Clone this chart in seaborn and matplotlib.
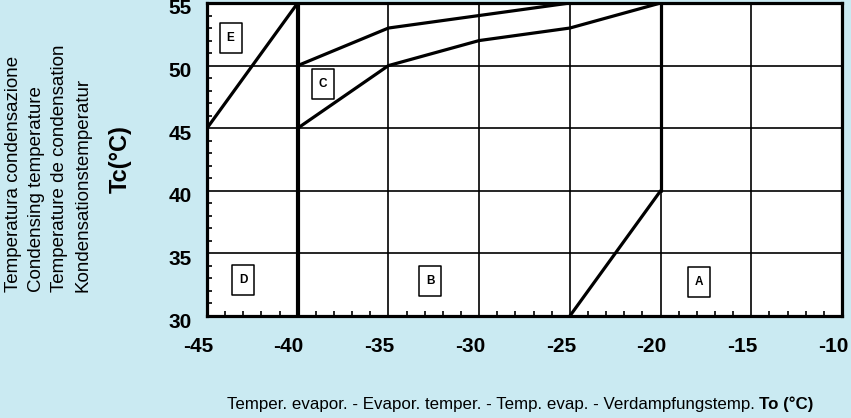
import matplotlib
matplotlib.use("Agg")
import matplotlib.pyplot as plt
import matplotlib.transforms as mtransforms
from matplotlib.path import Path
from matplotlib.ticker import MultipleLocator
import seaborn as sns

# region boundaries (To, Tc)
e_x = [-45, -40]
e_y = [45, 55]
c_upper_x = [-40, -35, -30, -25]
c_upper_y = [50, 53, 54, 55]
c_lower_x = [-40, -35, -30, -25, -20]
c_lower_y = [45, 50, 52, 53, 55]
a_x = [-25, -20]
a_y = [30, 40]
wall_40_x = [-40, -40]
wall_40_y = [30, 55]
wall_20_x = [-20, -20]
wall_20_y = [40, 55]

# zone labels
zone_names = ["E", "C", "D", "B", "A"]
zone_x = [-43.7, -38.6, -43.0, -32.7, -17.9]
zone_y = [52.2, 48.55, 32.9, 32.8, 32.7]

x_ticks = [-45, -40, -35, -30, -25, -20, -15, -10]
y_ticks = [30, 35, 40, 45, 50, 55]

ylabel_lines = ["Temperatura condensazione", "Condensing temperature",
                "Temperature de condensation", "Kondensationstemperatur"]
xlabel_text = "Temper. evapor. - Evapor. temper. - Temp. evap. - Verdampfungstemp."
xlabel_bold = "To (°C)"

BG = "#caeaf2"

sns.set_style("white")
plt.rcParams["font.family"] = ["Liberation Sans", "DejaVu Sans"]
plt.rcParams["axes.unicode_minus"] = False
plt.rcParams["text.color"] = "black"
plt.rcParams["xtick.color"] = "black"
plt.rcParams["ytick.color"] = "black"
plt.rcParams["xtick.labelcolor"] = "black"
plt.rcParams["ytick.labelcolor"] = "black"

fig = plt.figure(figsize=(8.51, 4.18), dpi=100, facecolor=BG)
ax = fig.add_axes([207 / 851, 102 / 418, 635 / 851, 313 / 418])
ax.set_facecolor("white")

ax.set_xlim(-45, -10)
ax.set_ylim(30, 55)
ax.set_xticks(x_ticks)
ax.set_yticks(y_ticks)
ax.xaxis.set_minor_locator(MultipleLocator(1))
ax.yaxis.set_minor_locator(MultipleLocator(1))
ax.grid(True, which="major", color="black", linewidth=1.2)
ax.set_axisbelow(True)

ax.tick_params(which="both", direction="in", bottom=True, left=True,
               top=False, right=False, color="black", labelcolor="black",
               labelsize=15)
ax.tick_params(which="minor", length=3.5, width=1.2)
ax.tick_params(which="major", length=0)
ax.tick_params(axis="x", pad=15)
ax.tick_params(axis="y", pad=11)
for lab in ax.get_xticklabels() + ax.get_yticklabels():
    lab.set_fontweight("bold")

for sp in ax.spines.values():
    sp.set_color("black")
    sp.set_linewidth(2.3)

lw = 2.3
sns.lineplot(x=e_x, y=e_y, ax=ax, color="black", linewidth=lw, sort=False, estimator=None)
sns.lineplot(x=c_upper_x, y=c_upper_y, ax=ax, color="black", linewidth=lw, sort=False, estimator=None)
sns.lineplot(x=c_lower_x, y=c_lower_y, ax=ax, color="black", linewidth=lw, sort=False, estimator=None)
sns.lineplot(x=a_x, y=a_y, ax=ax, color="black", linewidth=lw, sort=False, estimator=None)
sns.lineplot(x=wall_40_x, y=wall_40_y, ax=ax, color="black", linewidth=3.0, sort=False, estimator=None)
sns.lineplot(x=wall_20_x, y=wall_20_y, ax=ax, color="black", linewidth=lw, sort=False, estimator=None)

# tall rectangular label boxes
box = Path([(-11, -15), (11, -15), (11, 15), (-11, 15), (-11, -15)],
           [Path.MOVETO, Path.LINETO, Path.LINETO, Path.LINETO, Path.CLOSEPOLY])
sns.scatterplot(x=zone_x, y=zone_y, ax=ax, marker=box, s=21.6 ** 2,
                facecolor="white", edgecolor="black", linewidth=1.1, zorder=5)
for name, zx, zy in zip(zone_names, zone_x, zone_y):
    ax.text(zx, zy, name, ha="center", va="center", fontsize=8.5,
            fontweight="bold", color="black", zorder=6)

# shift tick labels like in the scan
xoff = mtransforms.ScaledTranslation(-9 / 100, 0, fig.dpi_scale_trans)
for lab in ax.get_xticklabels():
    lab.set_transform(lab.get_transform() + xoff)
yoff = mtransforms.ScaledTranslation(0, -4 / 100, fig.dpi_scale_trans)
for lab in ax.get_yticklabels():
    lab.set_transform(lab.get_transform() + yoff)

ax.set_xlabel("")
ax.set_ylabel("")

for i, line in enumerate(ylabel_lines):
    fig.text((14 + 23 * i) / 851, (418 - 292) / 418, line, rotation=90,
             ha="center", va="bottom", fontsize=13.5, color="black")
fig.text(120 / 851, (418 - 159) / 418, "Tc(°C)", rotation=90, ha="center",
         va="center", fontsize=17, fontweight="bold", color="black")

fig.text(755 / 851, 9 / 418, xlabel_text, ha="right", va="baseline",
         fontsize=12.2, color="black")
fig.text(759 / 851, 9 / 418, xlabel_bold, ha="left", va="baseline",
         fontsize=12.2, fontweight="bold", color="black")

fig.savefig("out.png", dpi=100, facecolor=BG)
